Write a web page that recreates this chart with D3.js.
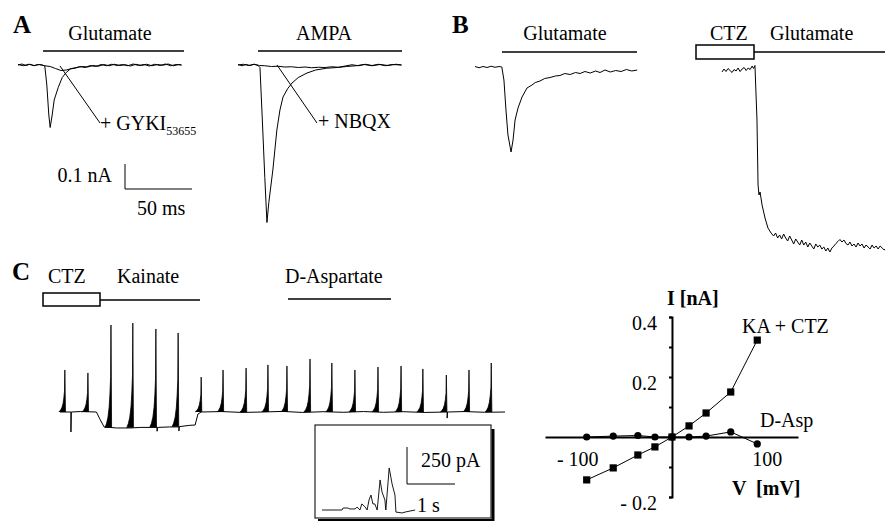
<!DOCTYPE html>
<html>
<head>
<meta charset="utf-8">
<script src="https://cdn.jsdelivr.net/npm/d3@7"></script>
<style>
body { margin: 0; background: #fff; }
svg text { font-family: "Liberation Serif", "Times New Roman", serif; fill: #000; font-size: 20px; }
</style>
</head>
<body>
<svg id="fig" width="885" height="530"></svg>
<script>
// ---- data (time in ms / s, current in nA / pA) ----

// A: glutamate, control and + GYKI53655
const gluCtrlA = [[0,0],[3,0.004],[6,-0.002],[9,0.003],[12,-0.003],[15,0.002],[18,0],[20,-0.004],[21.5,-0.08],[23,-0.2],[24,-0.25],[25.5,-0.2],[27,-0.14],[30,-0.09],[33,-0.05],[36,-0.03],[39,-0.016],[43,-0.012],[46,-0.006],[50,-0.01],[54,-0.002],[58,-0.006],[62,0.002],[66,-0.003],[70,0.003],[74,-0.002],[78,0.002],[82,-0.003],[86,0.004],[90,-0.002],[94,0.002],[98,-0.004],[102,0.003],[106,-0.002],[110,0.004],[114,-0.003],[118,0.002],[122,0]];
const gluGykiA = [[0,0.002],[4,-0.003],[8,0.003],[12,-0.002],[16,0.002],[20,-0.003],[24,-0.006],[28,-0.014],[32,-0.022],[36,-0.02],[40,-0.014],[44,-0.01],[48,-0.006],[52,-0.008],[56,-0.002],[60,-0.005],[64,0.002],[68,-0.003],[72,0.003],[76,-0.002],[80,0.001],[84,-0.004],[88,0.003],[92,-0.002],[96,0.003],[100,-0.003],[104,0.002],[108,-0.001],[112,0.004],[116,-0.003],[120,0.002],[122,0]];

// A: AMPA, control and + NBQX
const ampaCtrl = [[0,0.002],[3,-0.003],[6,0.002],[9,-0.002],[12,0.003],[15,-0.002],[16.4,-0.01],[18,-0.2],[20,-0.45],[21.6,-0.63],[23,-0.55],[26,-0.42],[29,-0.26],[31.3,-0.18],[33.6,-0.128],[37,-0.095],[40.3,-0.072],[45,-0.05],[51.5,-0.032],[58,-0.02],[66,-0.013],[74,-0.01],[81,-0.006],[88,-0.003],[94,0.002],[100,-0.003],[106,0.002],[112,-0.002],[118,0.003],[122,0]];
const ampaNbqx = [[0,0],[4,0.003],[8,-0.002],[12,0.003],[16,-0.002],[20,-0.003],[25,-0.006],[30,-0.005],[35,-0.008],[40,-0.007],[45,-0.01],[50,-0.008],[55,-0.011],[60,-0.009],[65,-0.01],[70,-0.007],[75,-0.009],[80,-0.004],[85,0.001],[90,-0.003],[95,0.003],[100,-0.002],[105,0.003],[110,-0.003],[115,0.002],[122,0]];

// B: glutamate alone, and glutamate after CTZ
const gluB = [[0,0.002],[3,-0.003],[6,0.002],[9,-0.002],[12,0.003],[15,-0.001],[18,0.002],[20,0],[21.6,-0.052],[23.1,-0.172],[24.6,-0.272],[26.9,-0.34],[28.4,-0.292],[29.9,-0.212],[32.1,-0.164],[35.1,-0.12],[38.8,-0.084],[42.5,-0.072],[45,-0.062],[48.5,-0.056],[52,-0.046],[56,-0.042],[60,-0.036],[63.4,-0.034],[67,-0.026],[71,-0.03],[75,-0.022],[78.4,-0.026],[82,-0.018],[86,-0.024],[90,-0.016],[93.3,-0.022],[97,-0.012],[101,-0.02],[105,-0.014],[109,-0.018],[113,-0.01],[117,-0.016],[121,-0.012]];
const gluCtzB = [[0,-0.02],[1.5,-0.008],[3,-0.018],[4.5,-0.006],[6,-0.014],[7.5,-0.022],[9,-0.01],[10.5,-0.016],[12,-0.004],[13.5,-0.018],[15,-0.008],[16.5,-0.002],[18,-0.014],[19.5,-0.004],[21,-0.01],[22.5,0.004],[23.5,-0.006],[24.6,0.006],[26.1,-0.212],[26.9,-0.472],[27.6,-0.512],[28.4,-0.5],[29.9,-0.552],[32.1,-0.604],[34.3,-0.644],[36.6,-0.664],[38.5,-0.676],[40,-0.664],[41.5,-0.684],[43,-0.672],[44.5,-0.688],[46,-0.668],[47.5,-0.684],[49,-0.696],[50.5,-0.676],[52,-0.692],[53.5,-0.708],[55,-0.688],[56.5,-0.7],[58,-0.712],[59.5,-0.692],[61,-0.712],[62.5,-0.7],[64,-0.72],[65.5,-0.704],[67,-0.716],[68.5,-0.728],[70,-0.708],[71.5,-0.72],[73,-0.712],[74.5,-0.728],[76,-0.72],[77.5,-0.736],[79,-0.724],[80.5,-0.74],[82,-0.724],[83.5,-0.716],[85,-0.706],[86.5,-0.698],[88,-0.69],[89.5,-0.7],[91,-0.692],[92.5,-0.706],[94,-0.712],[95.5,-0.7],[97,-0.716],[98.5,-0.708],[100,-0.72],[101.5,-0.704],[103,-0.716],[104.5,-0.708],[106,-0.724],[107.5,-0.712],[109,-0.72],[110.5,-0.728],[112,-0.712],[113.5,-0.724],[115,-0.716],[116.5,-0.728],[118,-0.716],[119.5,-0.724],[121,-0.732],[122.4,-0.724]];

// C: holding current (s, pA) and the repetitive spikes
const holdC = [[0,0],[2.7,0],[2.7,-135],[2.8,0],[5,3],[9,0],[9.9,-50],[10.9,-101],[14,-108],[17.3,-108],[20,-104],[24,-104],[24,-130],[24.1,-104],[27,-101],[29.4,-101],[29.4,-128],[29.5,-99],[32.1,-90],[33.4,-88],[34.1,-14],[34.9,0],[40,3],[45,-3],[50,0],[55,4],[60,-3],[65,2],[70,-2],[75,3],[80,-2],[85,2],[90,-3],[95.7,0],[95.7,-41],[95.8,0],[100,3],[105,-2],[110,0]];
const spikeT    = [1.2, 6.9, 12.6, 18.0, 23.7, 29.2, 34.9, 40.3, 46.0, 51.4, 56.1, 61.8, 67.2, 72.9, 78.6, 84.3, 89.7, 95.5, 101.1, 106.6];
const spikePeak = [284, 264, 588, 601, 561, 534, 236, 284, 297, 318, 311, 358, 331, 284, 304, 311, 291, 250, 284, 331];
const spikeBase = [0, 0, -106, -106, -103, -100, 0, 0, 0, 0, 0, 0, 0, 0, 0, 0, 0, 0, 0, 0];
// spike shape: time offset (s) and fraction of spike height
const shapeDt   = [-1.5, -1.1, -0.75, -0.45, -0.25, -0.08, 0, 0.15];
const shapeFrac = [0, 0.04, 0.1, 0.2, 0.33, 0.5, 1, 0];

// C inset: one burst (s, pA)
const insetBurst = [[0,0],[0.417,0],[0.44,13.5],[0.54,13.5],[0.58,7],[0.69,7],[0.73,20],[0.79,0],[0.83,41],[0.90,20],[0.94,0],[0.98,68],[1.02,101],[1.06,41],[1.10,41],[1.15,0],[1.21,203],[1.25,122],[1.31,68],[1.33,0],[1.40,284],[1.46,176],[1.52,101],[1.54,-14],[1.67,-20],[1.73,-14],[1.94,0]];

// C: I-V relation
const volts  = [-90, -62, -36, -18, 0, 18, 36, 62, 90];
const ivKA   = [-0.143, -0.103, -0.06, -0.033, 0, 0.037, 0.08, 0.15, 0.323];
const ivDAsp = [0, 0.003, 0.005, 0, 0, 0, 0.003, 0.017, -0.023];
const ivYTicks = [-0.2, -0.1, 0, 0.1, 0.2, 0.3, 0.4];
const ivYLabels = [0.4, 0.2, -0.2];
const ivXLabels = [-100, 100];

// ---- drawing ----
const svg = d3.select("#fig");

function trace(data, x, y, w) {
  svg.append("path")
    .datum(data)
    .attr("d", d3.line().x(d => x(d[0])).y(d => y(d[1])))
    .attr("fill", "none")
    .attr("stroke", "#000")
    .attr("stroke-width", w || 1)
    .attr("stroke-linejoin", "round");
}
function txt(x, y, s, o) {
  o = o || {};
  return svg.append("text").attr("x", x).attr("y", y)
    .attr("text-anchor", o.anchor || "start")
    .style("font-weight", o.bold ? "bold" : null)
    .style("font-size", o.size ? o.size + "px" : null)
    .text(s);
}
function hline(x1, x2, y, w) {
  svg.append("line").attr("x1", x1).attr("x2", x2).attr("y1", y).attr("y2", y)
    .attr("stroke", "#000").attr("stroke-width", w || 1.5);
}
function seg(x1, y1, x2, y2, w) {
  svg.append("line").attr("x1", x1).attr("y1", y1).attr("x2", x2).attr("y2", y2)
    .attr("stroke", "#000").attr("stroke-width", w || 1);
}

// panel A
const yA = d3.scaleLinear().domain([0, -0.25]).range([65, 127.5]);
const xA1 = d3.scaleLinear().domain([0, 122]).range([18, 181.5]);
const xA2 = d3.scaleLinear().domain([0, 122]).range([238, 401.5]);

txt(13, 33, "A", {bold: true, size: 25});
txt(110, 40, "Glutamate", {anchor: "middle"});
hline(43, 184, 51);
trace(gluGykiA, xA1, yA);
trace(gluCtrlA, xA1, yA);
seg(60, 66, 100, 123);
const gy = txt(100, 130, "+ GYKI");
gy.append("tspan").attr("dy", 5).style("font-size", "12px").text("53655");

txt(324, 40, "AMPA", {anchor: "middle"});
hline(258, 402, 51);
trace(ampaNbqx, xA2, yA);
trace(ampaCtrl, xA2, yA);
seg(277, 65, 317, 123);
txt(318, 128, "+ NBQX");

// scale bar 0.1 nA / 50 ms
const sbX = 125, sbY = 189;
seg(sbX, sbY, sbX, sbY - (yA(-0.1) - yA(0)));
seg(sbX, sbY, sbX + (xA1(50) - xA1(0)), sbY);
txt(112, 182, "0.1 nA", {anchor: "end"});
txt(137, 215, "50 ms");

// panel B
const yB = d3.scaleLinear().domain([0, -0.25]).range([67, 129.5]);
const xB1 = d3.scaleLinear().domain([0, 122]).range([475, 638.5]);
const xB2 = d3.scaleLinear().domain([0, 122]).range([722, 885.5]);

txt(452, 33, "B", {bold: true, size: 25});
txt(565, 40, "Glutamate", {anchor: "middle"});
hline(502, 637, 52);
trace(gluB, xB1, yB);

txt(710, 40, "CTZ");
txt(770, 40, "Glutamate");
svg.append("rect").attr("x", 696).attr("y", 45).attr("width", 58).attr("height", 14)
  .attr("fill", "#fff").attr("stroke", "#000").attr("stroke-width", 1.5);
hline(754, 885, 52);
trace(gluCtzB, xB2, yB);

// panel C
const xC = d3.scaleLinear().domain([0, 110]).range([60, 505]);
const yC = d3.scaleLinear().domain([0, 250]).range([412, 375]);

txt(12, 280, "C", {bold: true, size: 25});
txt(48, 283, "CTZ");
txt(117, 283, "Kainate");
svg.append("rect").attr("x", 43).attr("y", 293).attr("width", 57).attr("height", 13)
  .attr("fill", "#fff").attr("stroke", "#000").attr("stroke-width", 1.5);
hline(100, 200, 300);
txt(285, 283, "D-Aspartate");
hline(288, 391, 299);

trace(holdC, xC, yC);
const spikes = spikeT.map((t, i) => shapeDt.map((dt, k) =>
  [t + dt, spikeBase[i] + shapeFrac[k] * (spikePeak[i] - spikeBase[i])]));
svg.append("g").selectAll("path").data(spikes).join("path")
  .attr("d", d3.line().x(d => xC(d[0])).y(d => yC(d[1])))
  .attr("fill", "#000").attr("stroke", "#000").attr("stroke-width", 0.8);

// inset
svg.append("rect").attr("x", 315).attr("y", 425).attr("width", 176).attr("height", 93)
  .attr("fill", "#fff").attr("stroke", "#222").attr("stroke-width", 1.2);
seg(493, 429, 493, 521, 3);
seg(318, 520, 494, 520, 2);
const xI = d3.scaleLinear().domain([0, 1]).range([322, 370]);
const yI = d3.scaleLinear().domain([0, 250]).range([510, 473]);
trace(insetBurst, xI, yI, 0.9);
seg(407, 484, 407, 484 - (yI(0) - yI(250)));
seg(407, 484, 407 + (xI(1) - xI(0)), 484);
txt(421, 467, "250 pA");
txt(417, 512, "1 s");

// I-V plot
const xV = d3.scaleLinear().domain([-134, 133]).range([545, 798]);
const yV = d3.scaleLinear().domain([-0.2, 0.4]).range([497, 317]);

const xAxis = svg.append("g").attr("transform", `translate(0,${yV(0)})`)
  .call(d3.axisBottom(xV).tickValues(ivXLabels).tickSize(0).tickSizeOuter(0).tickPadding(15)
    .tickFormat(d => d < 0 ? "- " + Math.abs(d) : d));
xAxis.select(".domain").attr("stroke-width", 2);
xAxis.selectAll("text").style("font-family", "Liberation Serif").style("font-size", "20px");

const yAxis = svg.append("g").attr("transform", `translate(${xV(0)},0)`)
  .call(d3.axisLeft(yV).tickValues(ivYTicks).tickSize(3).tickSizeOuter(3).tickFormat(""));
yAxis.select(".domain").attr("stroke-width", 2);
yAxis.selectAll(".tick line").attr("stroke-width", 2);

ivYLabels.forEach(v => {
  txt(657, yV(v) + 13, v < 0 ? "- " + Math.abs(v) : v, {anchor: "end"});
});
txt(667, 305, "I [nA]", {bold: true});
txt(732, 495, "V  [mV]", {bold: true}).style("white-space", "pre");
txt(742, 333, "KA + CTZ");
txt(760, 427, "D-Asp");

const ka = volts.map((v, i) => [v, ivKA[i]]);
const da = volts.map((v, i) => [v, ivDAsp[i]]);
trace(da, xV, yV, 1);
trace(ka, xV, yV, 1);
svg.append("g").selectAll("circle").data(da).join("circle")
  .attr("cx", d => xV(d[0])).attr("cy", d => yV(d[1])).attr("r", 3.6).attr("fill", "#000");
svg.append("g").selectAll("rect").data(ka).join("rect")
  .attr("x", d => xV(d[0]) - 3.6).attr("y", d => yV(d[1]) - 3.6)
  .attr("width", 7.2).attr("height", 7.2).attr("fill", "#000");
</script>
</body>
</html>
